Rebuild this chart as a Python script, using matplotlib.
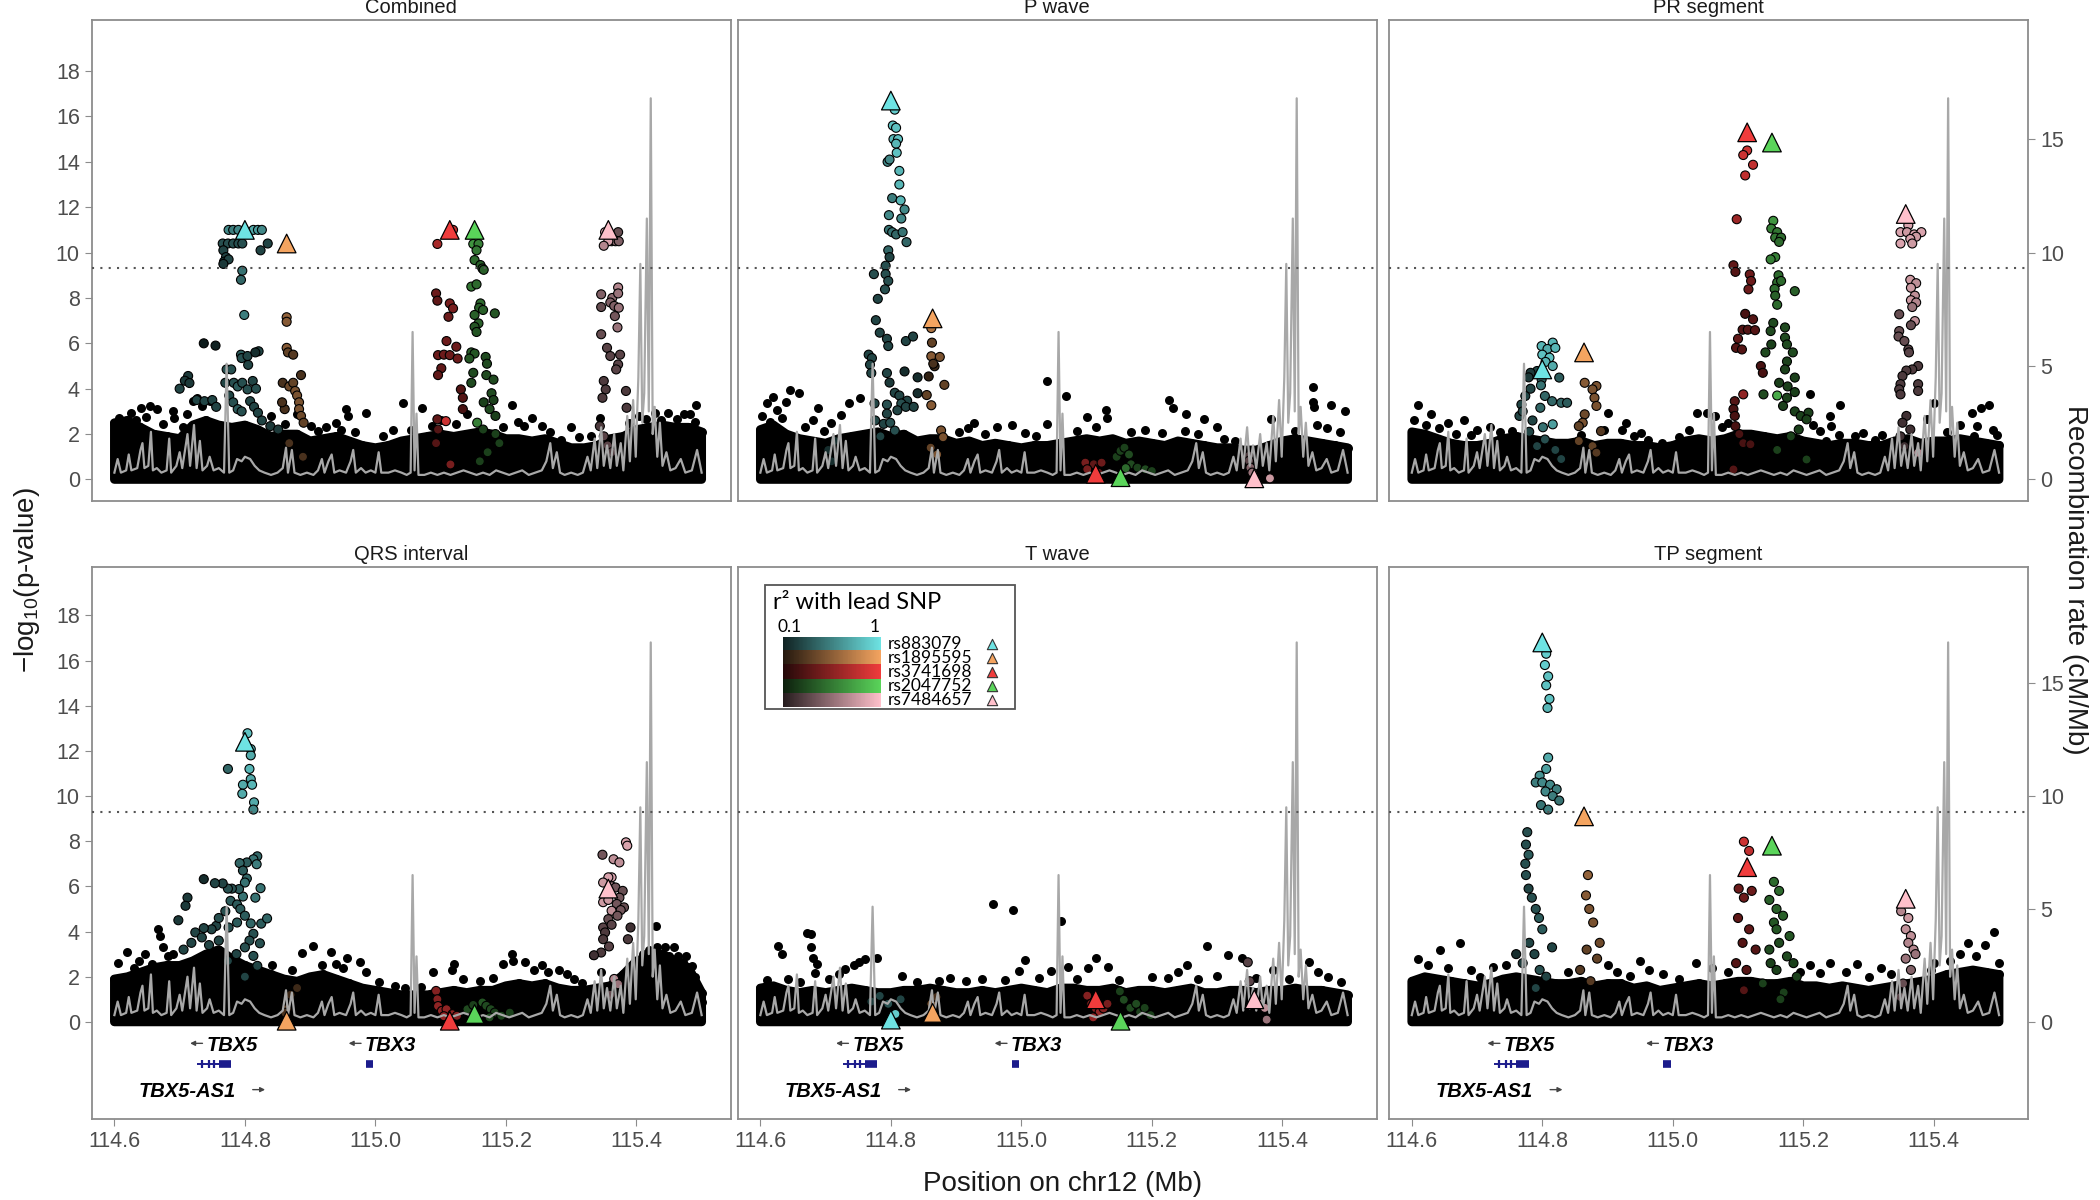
import numpy as np
import matplotlib
matplotlib.use('Agg')
import matplotlib.pyplot as plt
from matplotlib.colors import to_rgb
from matplotlib.patches import Rectangle

plt.rcParams['font.family'] = ['Liberation Sans', 'DejaVu Sans']
plt.rcParams['mathtext.fontset'] = 'custom'
plt.rcParams['mathtext.rm'] = 'Liberation Sans'

# ---------------- data ----------------
panel_titles = ['Combined', 'P wave', 'PR segment', 'QRS interval', 'T wave', 'TP segment']
lead_names = ['rs883079', 'rs1895595', 'rs3741698', 'rs2047752', 'rs7484657']
lead_colors = ['#6ee3e3', '#f4a460', '#f03c3c', '#5ad45a', '#ffc0cb']
lead_pos = [114.800, 114.864, 115.114, 115.152, 115.357]

lead_y_comb = [11.0, 10.4, 11.0, 11.0, 11.0]
lead_y_pw = [16.7, 7.1, 0.25, 0.1, 0.05]
lead_y_pr = [4.85, 5.6, 15.3, 14.85, 11.7]
lead_y_qrs = [12.4, 0.05, 0.05, 0.35, 5.9]
lead_y_tw = [0.1, 0.4, 1.0, 0.05, 1.0]
lead_y_tp = [16.8, 9.1, 6.85, 7.8, 5.45]

threshold = 9.3

# recombination rate (cM/Mb), shared by all panels
recomb_pos = [114.600, 114.605, 114.610, 114.618, 114.622, 114.626, 114.635, 114.640, 114.643, 114.646,
              114.652, 114.656, 114.659, 114.665, 114.672, 114.680, 114.684, 114.687, 114.695, 114.700,
              114.704, 114.712, 114.716, 114.722, 114.726, 114.731, 114.735, 114.742, 114.746, 114.752,
              114.760, 114.768, 114.772, 114.776, 114.782, 114.788, 114.795, 114.800, 114.808, 114.815,
              114.822, 114.830, 114.840, 114.850, 114.858, 114.863, 114.866, 114.872, 114.876, 114.885,
              114.895, 114.905, 114.912, 114.918, 114.922, 114.928, 114.933, 114.937, 114.945, 114.955,
              114.962, 114.966, 114.970, 114.978, 114.985, 114.993, 115.000, 115.005, 115.009, 115.020,
              115.030, 115.040, 115.048, 115.054, 115.057, 115.060, 115.063, 115.066, 115.075, 115.085,
              115.095, 115.105, 115.115, 115.125, 115.135, 115.145, 115.155, 115.165, 115.175, 115.185,
              115.195, 115.205, 115.215, 115.225, 115.235, 115.245, 115.255, 115.262, 115.268, 115.272,
              115.278, 115.283, 115.290, 115.300, 115.310, 115.318, 115.325, 115.330, 115.336, 115.340,
              115.346, 115.350, 115.355, 115.360, 115.366, 115.370, 115.376, 115.380, 115.386, 115.390,
              115.395, 115.399, 115.403, 115.406, 115.409, 115.412, 115.416, 115.419, 115.422, 115.425,
              115.428, 115.432, 115.436, 115.440, 115.446, 115.452, 115.460, 115.468, 115.475, 115.485,
              115.493, 115.500]
recomb_rate = [0.3, 0.9, 0.3, 0.4, 1.1, 0.4, 0.5, 1.3, 1.6, 0.5,
               0.6, 2.1, 0.4, 0.5, 0.3, 0.4, 1.8, 0.3, 0.6, 1.2,
               0.5, 2.0, 0.6, 2.4, 0.5, 1.7, 0.4, 0.6, 1.0, 0.4,
               0.5, 0.3, 5.1, 0.3, 0.4, 0.9, 0.8, 1.0, 0.9, 0.6,
               0.4, 0.3, 0.2, 0.3, 0.5, 1.4, 0.3, 1.3, 0.3, 0.2,
               0.3, 0.2, 0.4, 0.9, 0.3, 0.8, 1.1, 0.3, 0.4, 0.3,
               0.8, 1.3, 0.3, 0.5, 0.3, 0.4, 0.3, 1.2, 0.3, 0.3,
               0.4, 0.3, 0.2, 0.3, 6.5, 0.4, 2.9, 0.2, 0.2, 0.3,
               0.2, 0.3, 0.2, 0.3, 0.4, 0.3, 0.2, 0.3, 0.2, 0.4,
               0.3, 0.2, 0.3, 0.4, 0.2, 0.3, 0.4, 0.8, 1.6, 0.5,
               1.2, 0.3, 0.2, 0.3, 0.2, 0.3, 1.0, 0.4, 1.8, 0.5,
               2.3, 0.6, 1.5, 0.5, 2.0, 0.6, 1.6, 0.4, 2.8, 0.8,
               3.5, 1.0, 4.5, 9.5, 2.5, 3.8, 11.5, 3.0, 16.8, 2.0,
               3.2, 1.0, 2.5, 0.6, 1.2, 0.4, 0.5, 0.9, 0.3, 0.4,
               1.3, 0.3]

# top of the dense band of weak SNPs
band_pos = [114.60, 114.62, 114.64, 114.66, 114.68, 114.70, 114.72, 114.74, 114.76, 114.78,
            114.80, 114.82, 114.84, 114.86, 114.88, 114.90, 114.92, 114.94, 114.96, 114.98,
            115.00, 115.02, 115.04, 115.06, 115.08, 115.10, 115.12, 115.14, 115.16, 115.18,
            115.20, 115.22, 115.24, 115.26, 115.28, 115.30, 115.32, 115.34, 115.36, 115.38,
            115.40, 115.42, 115.44, 115.46, 115.48, 115.50]
band_comb = [2.5, 2.6, 2.3, 2.0, 1.9, 1.8, 2.4, 2.6, 2.4, 2.3, 2.4, 2.2, 1.9, 2.0, 2.0, 1.7, 1.8, 1.9, 1.7, 1.5,
             1.4, 1.5, 1.7, 1.8, 1.9, 2.0, 1.9, 2.0, 2.1, 2.0, 1.8, 1.8, 1.7, 1.8, 1.6, 1.4, 1.4, 1.5, 1.8, 1.9,
             2.2, 2.3, 2.4, 2.3, 2.3, 2.1]
band_pw = [2.2, 2.4, 2.0, 1.8, 1.7, 1.6, 1.8, 1.9, 2.0, 2.1, 1.9, 2.0, 1.7, 1.8, 1.8, 1.6, 1.7, 1.5, 1.6, 1.5,
           1.4, 1.5, 1.5, 1.6, 1.7, 1.8, 1.7, 1.8, 1.6, 1.7, 1.6, 1.5, 1.7, 1.6, 1.5, 1.4, 1.4, 1.3, 1.3, 1.5,
           1.7, 1.8, 1.7, 1.6, 1.5, 1.4]
band_pr = [2.1, 2.0, 1.8, 1.6, 1.5, 1.5, 1.6, 1.8, 1.9, 1.8, 1.7, 1.6, 1.6, 1.7, 1.5, 1.6, 1.6, 1.5, 1.5, 1.4,
           1.5, 1.7, 1.8, 1.7, 1.8, 2.0, 2.0, 1.9, 1.8, 1.9, 1.7, 1.6, 1.5, 1.6, 1.6, 1.5, 1.5, 1.7, 1.8, 1.6,
           1.7, 1.7, 1.8, 1.7, 1.6, 1.5]
band_qrs = [1.9, 2.0, 2.2, 2.4, 2.5, 2.5, 2.7, 3.0, 3.2, 2.8, 2.5, 2.3, 2.1, 1.9, 1.8, 2.0, 2.1, 1.9, 1.7, 1.5,
            1.4, 1.3, 1.2, 1.2, 1.2, 1.3, 1.4, 1.3, 1.4, 1.4, 1.6, 1.7, 1.6, 1.7, 1.5, 1.4, 1.4, 1.5, 1.6, 2.1,
            2.7, 2.9, 3.0, 2.7, 2.4, 1.3]
band_tw = [1.5, 1.6, 1.4, 1.3, 1.4, 1.3, 1.4, 1.5, 1.4, 1.3, 1.3, 1.4, 1.4, 1.5, 1.4, 1.3, 1.3, 1.4, 1.3, 1.4,
           1.5, 1.4, 1.3, 1.5, 1.5, 1.4, 1.4, 1.5, 1.3, 1.4, 1.4, 1.3, 1.4, 1.5, 1.3, 1.3, 1.4, 1.4, 1.3, 1.4,
           1.4, 1.5, 1.4, 1.4, 1.3, 1.2]
band_tp = [1.8, 2.0, 1.9, 1.8, 1.7, 1.6, 1.7, 1.9, 2.0, 1.9, 1.8, 1.7, 1.7, 1.8, 1.6, 1.7, 1.7, 1.5, 1.6, 1.4,
           1.5, 1.6, 1.7, 1.6, 1.7, 1.8, 1.8, 1.7, 1.7, 1.8, 1.6, 1.6, 1.5, 1.6, 1.5, 1.4, 1.5, 1.6, 1.7, 1.8,
           1.9, 2.1, 2.2, 2.3, 2.2, 2.1]

# scattered SNPs above the band with r2 < 0.1 (black): (position, -log10 p)
bg_comb = [(114.625, 2.94), (114.641, 3.16), (114.654, 3.24), (114.666, 3.1), (114.615, 2.43), (114.691, 2.72),
           (114.726, 3.6), (114.72, 3.45), (114.735, 3.24), (114.747, 3.46), (114.69, 3.0), (114.902, 2.35),
           (114.939, 2.5), (114.955, 3.1), (114.958, 2.8), (114.986, 2.94), (115.043, 3.38), (115.071, 3.16),
           (115.027, 2.2), (115.209, 3.3), (115.228, 2.35), (115.256, 2.35), (115.285, 1.76), (115.344, 2.7),
           (115.404, 2.8), (115.429, 2.94), (115.448, 2.94), (115.473, 2.87), (115.482, 2.9), (115.492, 3.3),
           (115.499, 1.98), (115.388, 2.5), (114.88, 2.9), (114.84, 2.8), (115.10, 2.6), (115.14, 2.9),
           (115.30, 2.3), (115.24, 2.7), (114.607, 2.7), (114.633, 2.6), (114.648, 2.75), (114.675, 2.45),
           (114.705, 2.3), (114.712, 2.9), (114.862, 2.45), (114.912, 2.15), (114.925, 2.3), (114.948, 2.2),
           (114.968, 2.1), (115.012, 1.9), (115.055, 2.2), (115.086, 2.35), (115.124, 2.45), (115.196, 2.3),
           (115.218, 2.55), (115.268, 2.1), (115.312, 1.85), (115.33, 1.9), (115.414, 2.65), (115.438, 2.6),
           (115.462, 2.65), (115.49, 2.55)]
bg_pw = [(115.039, 4.36), (115.069, 3.68), (115.130, 3.05), (115.226, 3.5), (115.232, 3.15), (115.253, 2.9),
         (115.280, 2.68), (115.300, 2.3), (115.327, 1.7), (115.383, 2.68), (115.447, 4.06), (115.447, 3.42),
         (115.449, 3.2), (115.475, 3.27), (115.496, 3.0), (115.453, 2.38), (114.646, 3.94), (114.659, 3.8),
         (114.620, 3.64), (114.610, 3.35), (114.626, 3.05), (114.688, 3.17), (114.736, 3.35), (114.753, 3.6),
         (114.724, 2.83), (114.708, 2.5), (114.986, 2.38), (115.040, 2.45), (114.928, 2.5), (115.100, 2.75),
         (115.132, 2.7), (115.251, 2.15), (115.270, 2.0), (114.64, 3.4), (114.68, 2.6), (114.603, 2.8),
         (114.615, 2.55), (114.633, 2.7), (114.668, 2.3), (114.697, 2.15), (114.905, 2.1), (114.918, 2.25),
         (114.945, 2.0), (114.962, 2.3), (115.005, 2.05), (115.022, 1.9), (115.085, 2.15), (115.115, 2.3),
         (115.168, 2.1), (115.19, 2.2), (115.215, 2.05), (115.31, 1.8), (115.42, 2.15), (115.468, 2.25),
         (115.488, 2.1)]
bg_pr = [(114.61, 3.3), (114.63, 2.9), (114.655, 2.5), (114.70, 2.2), (114.753, 2.13), (114.90, 2.94),
         (115.037, 2.94), (115.053, 2.94), (115.065, 2.8), (115.211, 3.75), (115.256, 3.3), (115.241, 2.8),
         (115.242, 2.35), (115.291, 2.06), (115.321, 1.98), (115.400, 3.35), (115.389, 2.65), (115.458, 2.94),
         (115.484, 3.26), (115.473, 3.16), (115.467, 2.35), (115.461, 1.91), (115.497, 1.98), (114.928, 2.5),
         (114.922, 2.2), (114.940, 1.91), (114.962, 1.76), (114.983, 1.62), (115.255, 1.98), (115.235, 1.7),
         (115.271, 1.47), (114.68, 2.6), (114.72, 2.3), (114.603, 2.6), (114.622, 2.4), (114.642, 2.25),
         (114.668, 2.0), (114.69, 1.95), (114.735, 2.1), (114.86, 1.95), (114.895, 2.2), (114.952, 2.05),
         (115.01, 1.85), (115.025, 2.2), (115.075, 2.3), (115.085, 2.5), (115.215, 2.4), (115.225, 2.15),
         (115.28, 1.9), (115.31, 1.75), (115.42, 2.1), (115.44, 2.4), (115.49, 2.2)]
bg_qrs = [(114.619, 3.1), (114.647, 3.0), (114.667, 4.1), (114.670, 3.8), (114.674, 3.3), (114.658, 2.55),
          (114.888, 3.07), (114.904, 3.37), (114.932, 3.1), (114.957, 2.85), (114.976, 2.65), (114.842, 2.5),
          (115.210, 3.0), (115.211, 2.7), (115.229, 2.63), (115.195, 2.55), (115.243, 2.3), (115.256, 2.5),
          (115.281, 2.3), (115.294, 2.1), (115.316, 1.7), (115.334, 2.95), (115.430, 4.25), (115.431, 3.3),
          (115.444, 3.3), (115.457, 3.3), (115.463, 2.93), (115.472, 2.63), (115.485, 2.48), (115.497, 1.37),
          (115.500, 0.9), (115.120, 2.55), (115.117, 2.3), (115.089, 2.2), (115.046, 1.5), (115.40, 2.7),
          (115.41, 3.0), (115.45, 2.9), (114.63, 2.4), (114.69, 3.0), (114.95, 2.4), (114.606, 2.6),
          (114.638, 2.7), (114.682, 2.9), (114.872, 2.3), (114.918, 2.5), (114.94, 2.55), (114.985, 2.2),
          (115.005, 1.75), (115.03, 1.6), (115.07, 1.55), (115.135, 1.9), (115.16, 1.8), (115.18, 1.95),
          (115.265, 2.2), (115.305, 1.9), (115.345, 2.2), (115.42, 3.2), (115.476, 2.9), (115.49, 2.0)]
bg_tw = [(114.956, 5.2), (114.987, 4.95), (115.061, 4.45), (114.672, 3.95), (114.677, 3.9), (114.678, 3.3),
         (114.681, 2.85), (114.684, 2.15), (114.687, 2.55), (114.760, 2.8), (114.779, 2.85), (114.751, 2.65),
         (114.743, 2.5), (114.730, 2.35), (114.643, 1.9), (114.817, 2.05), (114.874, 1.8), (115.284, 3.35),
         (115.317, 2.95), (115.338, 2.85), (115.254, 2.5), (115.441, 2.65), (115.385, 2.3), (115.114, 2.85),
         (115.133, 2.45), (115.102, 2.4), (115.072, 2.45), (115.006, 2.75), (114.996, 2.25), (115.046, 2.25),
         (115.027, 1.95), (114.627, 3.34), (114.633, 3.0), (115.47, 2.0), (114.61, 1.85), (114.66, 1.75),
         (114.705, 1.9), (114.72, 2.1), (114.84, 1.75), (114.89, 1.95), (114.915, 1.8), (114.94, 1.9),
         (114.975, 1.85), (115.085, 1.9), (115.15, 1.85), (115.2, 2.0), (115.225, 1.95), (115.24, 2.2),
         (115.27, 1.9), (115.3, 2.05), (115.36, 1.95), (115.41, 1.9), (115.455, 2.2), (115.49, 1.75)]
bg_tp = [(114.674, 3.5), (114.643, 3.2), (115.493, 4.0), (115.478, 3.4), (115.452, 3.5), (115.40, 2.6),
         (114.705, 2.0), (115.282, 2.56), (115.241, 2.6), (115.035, 2.6), (114.963, 2.3), (115.319, 2.4),
         (114.61, 2.8), (114.95, 2.7), (115.06, 2.4), (115.21, 2.5), (115.44, 3.0), (114.90, 2.5),
         (114.625, 2.5), (114.655, 2.4), (114.69, 2.3), (114.725, 2.45), (114.745, 2.5), (114.84, 2.2),
         (114.915, 2.2), (114.935, 2.05), (114.985, 2.1), (115.01, 1.9), (115.085, 2.2), (115.195, 2.2),
         (115.225, 2.15), (115.265, 2.2), (115.3, 2.0), (115.335, 2.1), (115.395, 2.3), (115.425, 2.7),
         (115.465, 2.9), (115.5, 2.6)]

# SNPs in LD with each lead: (position, -log10 p, r2)
comb_cyan = [(114.775, 11.0, 0.6), (114.782, 11.0, 0.55), (114.790, 11.0, 0.6), (114.813, 11.0, 0.75),
             (114.820, 11.0, 0.7), (114.826, 11.0, 0.6), (114.766, 10.4, 0.35), (114.774, 10.4, 0.35),
             (114.782, 10.4, 0.35), (114.790, 10.4, 0.35), (114.796, 10.4, 0.35), (114.835, 10.4, 0.3),
             (114.824, 10.1, 0.3), (114.767, 10.1, 0.3), (114.771, 9.8, 0.3), (114.768, 9.6, 0.25),
             (114.775, 9.7, 0.3), (114.767, 9.5, 0.25), (114.796, 9.2, 0.5), (114.794, 8.8, 0.45),
             (114.799, 7.25, 0.55), (114.737, 6.0, 0.12), (114.755, 5.9, 0.15), (114.794, 5.5, 0.4),
             (114.795, 5.35, 0.35), (114.805, 5.05, 0.3), (114.821, 5.65, 0.3), (114.772, 4.85, 0.35),
             (114.713, 4.56, 0.25), (114.708, 4.35, 0.25), (114.700, 4.0, 0.3), (114.715, 4.25, 0.25),
             (114.726, 3.5, 0.3), (114.738, 3.45, 0.3), (114.750, 3.5, 0.3), (114.756, 3.2, 0.3),
             (114.779, 4.85, 0.35), (114.770, 4.26, 0.3), (114.783, 4.26, 0.35), (114.789, 4.1, 0.4),
             (114.796, 4.26, 0.35), (114.804, 3.97, 0.35), (114.812, 4.34, 0.3), (114.817, 4.0, 0.35),
             (114.776, 3.7, 0.3), (114.782, 3.4, 0.35), (114.789, 3.1, 0.4), (114.795, 3.0, 0.35),
             (114.808, 3.45, 0.3), (114.814, 3.2, 0.3), (114.820, 2.94, 0.3), (114.826, 2.6, 0.3),
             (114.839, 2.35, 0.25), (114.851, 2.2, 0.25), (114.804, 5.44, 0.3), (114.816, 5.6, 0.2)]
comb_orange = [(114.864, 7.15, 0.6), (114.864, 6.95, 0.55), (114.864, 5.8, 0.55), (114.866, 5.6, 0.4),
               (114.874, 5.5, 0.35), (114.858, 4.26, 0.3), (114.868, 4.1, 0.45), (114.874, 4.26, 0.4),
               (114.877, 3.9, 0.5), (114.886, 4.6, 0.3), (114.880, 3.7, 0.5), (114.883, 3.4, 0.5),
               (114.883, 3.1, 0.5), (114.886, 2.8, 0.45), (114.890, 2.5, 0.4), (114.861, 3.1, 0.3),
               (114.857, 3.4, 0.3), (114.868, 1.6, 0.3), (114.889, 1.0, 0.3)]
comb_red = [(115.095, 10.38, 0.7), (115.119, 11.0, 0.8), (115.093, 8.2, 0.45), (115.095, 7.88, 0.4),
            (115.114, 7.76, 0.5), (115.119, 7.54, 0.5), (115.112, 7.17, 0.45), (115.109, 6.1, 0.45),
            (115.124, 5.85, 0.45), (115.096, 5.48, 0.45), (115.105, 5.5, 0.45), (115.114, 5.48, 0.45),
            (115.126, 5.33, 0.45), (115.101, 4.9, 0.4), (115.096, 4.6, 0.4), (115.131, 3.97, 0.35),
            (115.134, 3.6, 0.35), (115.134, 3.1, 0.3), (115.095, 2.65, 0.4), (115.108, 2.57, 0.85),
            (115.096, 2.2, 0.35), (115.093, 1.6, 0.35), (115.115, 0.66, 0.5)]
comb_green = [(115.150, 10.38, 0.7), (115.158, 10.38, 0.6), (115.155, 10.1, 0.55), (115.152, 9.67, 0.5),
              (115.161, 9.45, 0.45), (115.164, 9.3, 0.45), (115.166, 9.24, 0.45), (115.147, 8.5, 0.55),
              (115.155, 8.6, 0.5), (115.161, 7.76, 0.5), (115.159, 7.57, 0.45), (115.165, 7.47, 0.45),
              (115.152, 7.25, 0.45), (115.183, 7.32, 0.4), (115.158, 6.88, 0.45), (115.152, 6.73, 0.4),
              (115.155, 6.5, 0.4), (115.147, 5.6, 0.45), (115.152, 5.55, 0.4), (115.144, 5.33, 0.4),
              (115.169, 5.4, 0.35), (115.171, 5.1, 0.35), (115.150, 4.7, 0.35), (115.170, 4.6, 0.35),
              (115.181, 4.4, 0.35), (115.147, 4.26, 0.35), (115.178, 3.8, 0.35), (115.181, 3.5, 0.3),
              (115.166, 3.4, 0.3), (115.175, 3.1, 0.35), (115.184, 2.8, 0.3), (115.156, 2.5, 0.6),
              (115.165, 2.2, 0.3), (115.184, 2.0, 0.3), (115.190, 1.6, 0.3), (115.172, 1.2, 0.3),
              (115.160, 0.8, 0.3)]
comb_pink = [(115.352, 10.9, 0.9), (115.362, 10.5, 0.6), (115.368, 10.5, 0.55), (115.373, 10.5, 0.5),
             (115.357, 10.5, 0.85), (115.350, 10.3, 0.7), (115.372, 10.9, 0.4), (115.346, 8.16, 0.5),
             (115.363, 8.0, 0.55), (115.372, 8.46, 0.7), (115.372, 8.2, 0.6), (115.360, 7.8, 0.5),
             (115.366, 7.65, 0.5), (115.373, 7.57, 0.6), (115.367, 7.2, 0.45), (115.371, 6.7, 0.6),
             (115.346, 7.6, 0.4), (115.346, 6.4, 0.4), (115.355, 5.8, 0.35), (115.360, 5.44, 0.35),
             (115.375, 5.5, 0.35), (115.372, 5.07, 0.35), (115.369, 4.85, 0.35), (115.350, 4.34, 0.3),
             (115.353, 3.97, 0.3), (115.348, 3.6, 0.3), (115.384, 3.9, 0.3), (115.385, 3.16, 0.3),
             (115.344, 2.35, 0.3), (115.350, 1.9, 0.35), (115.356, 1.5, 0.35), (115.362, 1.2, 0.3)]

pw_cyan = [(114.806, 16.3, 0.9), (114.803, 15.6, 0.85), (114.808, 15.5, 0.85), (114.804, 15.0, 0.8),
           (114.811, 15.0, 0.85), (114.808, 14.8, 0.8), (114.809, 14.4, 0.85), (114.795, 14.0, 0.6),
           (114.798, 14.1, 0.6), (114.813, 13.6, 0.8), (114.813, 13.0, 0.8), (114.802, 12.4, 0.55),
           (114.815, 12.3, 0.8), (114.821, 11.9, 0.6), (114.797, 11.65, 0.6), (114.816, 11.5, 0.6),
           (114.797, 11.0, 0.5), (114.802, 10.9, 0.5), (114.808, 10.8, 0.45), (114.818, 10.9, 0.5),
           (114.824, 10.46, 0.45), (114.796, 10.1, 0.45), (114.798, 9.8, 0.3), (114.792, 9.42, 0.35),
           (114.774, 9.05, 0.35), (114.792, 9.05, 0.35), (114.796, 8.75, 0.35), (114.791, 8.38, 0.35),
           (114.780, 7.96, 0.3), (114.777, 7.02, 0.3), (114.783, 6.47, 0.3), (114.794, 6.2, 0.3),
           (114.796, 5.88, 0.3), (114.823, 6.1, 0.3), (114.834, 6.3, 0.3), (114.766, 5.5, 0.3),
           (114.771, 5.35, 0.3), (114.768, 5.06, 0.3), (114.770, 4.69, 0.3), (114.794, 4.69, 0.3),
           (114.821, 4.76, 0.2), (114.798, 4.27, 0.25), (114.841, 4.5, 0.2), (114.806, 3.82, 0.3),
           (114.813, 3.7, 0.3), (114.841, 3.8, 0.2), (114.825, 3.47, 0.3), (114.816, 3.35, 0.35),
           (114.775, 3.35, 0.3), (114.794, 3.3, 0.35), (114.794, 2.9, 0.3), (114.810, 3.05, 0.3),
           (114.823, 3.2, 0.3), (114.835, 3.2, 0.3), (114.776, 2.6, 0.3), (114.789, 2.45, 0.3),
           (114.799, 2.5, 0.35), (114.806, 2.15, 0.35), (114.784, 1.9, 0.3), (114.714, 1.7, 0.2),
           (114.704, 1.3, 0.2), (114.709, 0.8, 0.2)]
pw_orange = [(114.862, 6.85, 0.75), (114.862, 6.67, 0.7), (114.863, 6.03, 0.4), (114.862, 5.43, 0.55),
             (114.875, 5.4, 0.5), (114.867, 4.99, 0.25), (114.865, 5.1, 0.3), (114.858, 4.54, 0.2),
             (114.882, 4.17, 0.4), (114.855, 3.72, 0.4), (114.862, 3.27, 0.55), (114.877, 2.16, 0.5),
             (114.880, 1.86, 0.5), (114.861, 1.4, 0.4), (114.871, 1.1, 0.5)]
pw_red = [(115.098, 0.74, 0.5), (115.111, 0.67, 0.4), (115.123, 0.74, 0.45), (115.101, 0.45, 0.5),
          (115.118, 0.3, 0.4)]
pw_green = [(115.146, 1.0, 0.3), (115.152, 1.26, 0.3), (115.158, 1.4, 0.3), (115.165, 1.1, 0.35),
            (115.168, 0.67, 0.35), (115.178, 0.52, 0.3), (115.190, 0.45, 0.35), (115.200, 0.37, 0.3),
            (115.160, 0.5, 0.5)]
pw_pink = [(115.349, 1.04, 0.3), (115.349, 0.82, 0.35), (115.351, 0.52, 0.5), (115.354, 0.3, 0.6),
           (115.381, 0.05, 0.8)]

pr_cyan = [(114.799, 5.88, 0.8), (114.816, 6.03, 0.8), (114.808, 5.75, 0.75), (114.800, 5.5, 0.85),
           (114.820, 5.8, 0.8), (114.811, 5.37, 0.85), (114.805, 5.18, 0.8), (114.816, 5.0, 0.75),
           (114.792, 4.78, 0.3), (114.799, 4.41, 0.45), (114.826, 4.49, 0.4), (114.782, 4.7, 0.25),
           (114.779, 4.5, 0.25), (114.798, 4.15, 0.5), (114.804, 3.68, 0.45), (114.815, 3.45, 0.45),
           (114.829, 3.38, 0.45), (114.838, 3.38, 0.4), (114.797, 3.16, 0.45), (114.774, 3.68, 0.3),
           (114.768, 3.3, 0.3), (114.765, 2.8, 0.3), (114.816, 2.43, 0.7), (114.801, 2.3, 0.5),
           (114.780, 2.1, 0.3), (114.804, 1.76, 0.35), (114.792, 1.47, 0.3), (114.820, 1.3, 0.3),
           (114.829, 0.9, 0.3), (114.782, 4.0, 0.3), (114.770, 3.0, 0.3), (114.785, 2.6, 0.3)]
pr_orange = [(114.865, 4.26, 0.55), (114.883, 4.12, 0.5), (114.877, 3.97, 0.5), (114.880, 3.6, 0.5),
             (114.883, 3.24, 0.5), (114.865, 2.87, 0.45), (114.862, 2.5, 0.5), (114.856, 2.35, 0.4),
             (114.890, 2.13, 0.35), (114.856, 1.69, 0.4), (114.877, 1.47, 0.4), (114.883, 1.18, 0.35)]
pr_red = [(115.114, 14.5, 0.85), (115.108, 14.3, 0.85), (115.123, 13.87, 0.8), (115.111, 13.4, 0.8),
          (115.098, 11.47, 0.65), (115.093, 9.44, 0.4), (115.096, 9.15, 0.35), (115.118, 9.04, 0.45),
          (115.120, 8.75, 0.45), (115.116, 8.38, 0.45), (115.111, 7.3, 0.3), (115.123, 7.06, 0.35),
          (115.107, 6.6, 0.35), (115.115, 6.6, 0.35), (115.126, 6.58, 0.35), (115.100, 6.2, 0.4),
          (115.097, 5.8, 0.35), (115.106, 5.73, 0.35), (115.135, 5.0, 0.3), (115.138, 4.7, 0.3),
          (115.108, 3.75, 0.6), (115.095, 3.45, 0.35), (115.093, 3.1, 0.3), (115.095, 2.8, 0.3),
          (115.096, 2.35, 0.3), (115.102, 2.0, 0.3), (115.108, 1.6, 0.3), (115.119, 1.55, 0.3),
          (115.093, 0.44, 0.35)]
pr_green = [(115.154, 11.4, 0.7), (115.151, 11.06, 0.6), (115.160, 10.9, 0.55), (115.157, 10.66, 0.55),
            (115.166, 10.66, 0.5), (115.163, 10.47, 0.5), (115.157, 9.8, 0.6), (115.150, 9.7, 0.6),
            (115.162, 9.0, 0.5), (115.160, 8.68, 0.5), (115.156, 8.4, 0.5), (115.166, 8.75, 0.5),
            (115.187, 8.3, 0.45), (115.157, 8.1, 0.45), (115.160, 7.7, 0.5), (115.154, 6.9, 0.35),
            (115.150, 6.54, 0.35), (115.172, 6.7, 0.35), (115.172, 6.25, 0.35), (115.175, 5.95, 0.35),
            (115.184, 5.6, 0.35), (115.142, 5.6, 0.35), (115.151, 5.95, 0.3), (115.175, 5.2, 0.3),
            (115.172, 4.85, 0.3), (115.187, 4.49, 0.3), (115.163, 4.26, 0.3), (115.176, 4.1, 0.3),
            (115.187, 3.85, 0.3), (115.175, 3.6, 0.3), (115.160, 3.7, 0.8), (115.139, 3.75, 0.35),
            (115.169, 3.24, 0.3), (115.187, 3.0, 0.3), (115.196, 2.8, 0.3), (115.208, 2.94, 0.3),
            (115.205, 2.65, 0.3), (115.193, 2.2, 0.3), (115.181, 1.9, 0.3), (115.160, 1.3, 0.3),
            (115.205, 0.88, 0.3)]
pr_pink = [(115.361, 11.2, 0.85), (115.349, 10.9, 0.85), (115.359, 10.9, 0.8), (115.370, 10.8, 0.85),
           (115.381, 10.9, 0.85), (115.373, 10.7, 0.8), (115.364, 10.6, 0.85), (115.349, 10.4, 0.85),
           (115.367, 10.4, 0.8), (115.364, 8.8, 0.8), (115.373, 8.65, 0.75), (115.365, 8.45, 0.8),
           (115.371, 8.1, 0.75), (115.365, 7.9, 0.8), (115.373, 7.8, 0.7), (115.367, 7.6, 0.6),
           (115.347, 7.28, 0.4), (115.371, 6.98, 0.75), (115.365, 6.8, 0.4), (115.347, 6.54, 0.4),
           (115.346, 6.3, 0.4), (115.355, 6.1, 0.4), (115.361, 5.73, 0.35), (115.362, 5.6, 0.35),
           (115.376, 5.0, 0.3), (115.367, 4.85, 0.3), (115.358, 4.8, 0.3), (115.352, 4.56, 0.3),
           (115.349, 4.2, 0.3), (115.376, 4.2, 0.3), (115.347, 3.97, 0.3), (115.376, 3.9, 0.3),
           (115.349, 3.75, 0.3), (115.358, 2.8, 0.25), (115.352, 2.5, 0.25), (115.364, 2.2, 0.25),
           (115.349, 1.9, 0.25), (115.355, 1.47, 0.25), (115.376, 1.18, 0.7)]

qrs_cyan = [(114.804, 12.78, 0.85), (114.809, 12.08, 0.8), (114.809, 11.8, 0.75), (114.774, 11.2, 0.45),
            (114.807, 11.2, 0.8), (114.809, 10.75, 0.75), (114.797, 10.5, 0.75), (114.811, 10.5, 0.8),
            (114.796, 10.1, 0.75), (114.814, 9.72, 0.75), (114.813, 9.4, 0.6), (114.819, 7.33, 0.45),
            (114.813, 7.2, 0.5), (114.803, 7.06, 0.4), (114.792, 7.03, 0.45), (114.818, 6.98, 0.55),
            (114.797, 6.7, 0.4), (114.803, 6.35, 0.45), (114.800, 6.17, 0.5), (114.824, 5.92, 0.5),
            (114.816, 5.5, 0.5), (114.797, 5.55, 0.5), (114.791, 5.88, 0.4), (114.780, 5.9, 0.35),
            (114.774, 5.9, 0.35), (114.766, 6.13, 0.3), (114.754, 6.14, 0.3), (114.737, 6.32, 0.2),
            (114.712, 5.5, 0.25), (114.709, 5.14, 0.25), (114.698, 4.5, 0.25), (114.778, 5.36, 0.4),
            (114.788, 5.2, 0.4), (114.793, 5.0, 0.4), (114.800, 4.7, 0.4), (114.788, 4.4, 0.4),
            (114.775, 4.18, 0.35), (114.756, 4.25, 0.3), (114.749, 4.1, 0.3), (114.737, 4.15, 0.3),
            (114.724, 3.96, 0.3), (114.734, 3.74, 0.3), (114.718, 3.5, 0.3), (114.706, 3.2, 0.3),
            (114.809, 4.36, 0.45), (114.825, 4.35, 0.4), (114.834, 4.58, 0.45), (114.823, 3.48, 0.35),
            (114.813, 3.9, 0.35), (114.807, 3.6, 0.35), (114.800, 3.3, 0.35), (114.787, 3.0, 0.3),
            (114.774, 2.7, 0.3), (114.813, 2.92, 0.35), (114.819, 2.48, 0.3), (114.800, 2.0, 0.3),
            (114.760, 3.6, 0.3), (114.745, 3.4, 0.3), (114.760, 4.6, 0.35), (114.770, 4.9, 0.35)]
qrs_orange = [(114.864, 0.56, 0.35), (114.862, 0.4, 0.3), (114.870, 1.2, 0.25), (114.880, 1.5, 0.25)]
qrs_red = [(115.093, 1.37, 0.55), (115.095, 1.0, 0.55), (115.096, 0.7, 0.6), (115.102, 0.49, 0.6),
           (115.109, 0.56, 0.6), (115.118, 0.34, 0.6), (115.125, 0.27, 0.55), (115.105, 0.25, 0.6)]
qrs_green = [(115.164, 0.86, 0.4), (115.170, 0.71, 0.35), (115.177, 0.56, 0.35), (115.183, 0.41, 0.3),
             (115.141, 0.56, 0.35), (115.157, 0.12, 0.4), (115.193, 0.27, 0.3), (115.206, 0.41, 0.3),
             (115.150, 0.75, 0.3), (115.175, 0.2, 0.35)]
qrs_pink = [(115.384, 7.95, 0.85), (115.386, 7.8, 0.85), (115.348, 7.4, 0.45), (115.365, 7.2, 0.75),
            (115.374, 7.06, 0.75), (115.362, 6.4, 0.85), (115.357, 6.4, 0.85), (115.349, 6.17, 0.8),
            (115.362, 6.0, 0.75), (115.368, 5.95, 0.45), (115.379, 5.8, 0.4), (115.374, 5.5, 0.45),
            (115.349, 5.3, 0.8), (115.357, 5.4, 0.8), (115.370, 5.22, 0.45), (115.381, 5.07, 0.4),
            (115.362, 4.92, 0.75), (115.376, 4.95, 0.45), (115.371, 4.7, 0.45), (115.357, 4.55, 0.4),
            (115.349, 4.18, 0.35), (115.362, 4.3, 0.35), (115.352, 3.96, 0.3), (115.391, 4.18, 0.25),
            (115.349, 3.66, 0.3), (115.387, 3.66, 0.3), (115.358, 3.34, 0.35), (115.346, 3.07, 0.3),
            (115.335, 2.95, 0.25), (115.366, 1.9, 0.7), (115.372, 1.67, 0.6), (115.36, 1.2, 0.4)]

tw_cyan = [(114.807, 0.35, 0.9), (114.796, 0.8, 0.35), (114.783, 1.15, 0.3), (114.770, 0.9, 0.25),
           (114.815, 1.0, 0.3)]
tw_orange = [(114.862, 0.8, 0.45), (114.870, 1.1, 0.3)]
tw_red = [(115.101, 1.16, 0.55), (115.107, 0.8, 0.55), (115.114, 0.6, 0.55), (115.120, 0.44, 0.6),
          (115.126, 0.6, 0.55), (115.132, 0.8, 0.5), (115.110, 0.2, 0.6)]
tw_green = [(115.151, 1.35, 0.3), (115.157, 0.98, 0.35), (115.167, 0.62, 0.35), (115.176, 0.8, 0.35),
            (115.182, 0.44, 0.3), (115.189, 0.62, 0.3), (115.198, 0.3, 0.3)]
tw_pink = [(115.347, 2.64, 0.35), (115.350, 1.8, 0.35), (115.367, 0.8, 0.7), (115.373, 0.62, 0.75),
           (115.376, 0.1, 0.6)]

tp_cyan = [(114.806, 16.3, 0.9), (114.804, 15.8, 0.9), (114.809, 15.3, 0.85), (114.806, 14.9, 0.85),
           (114.811, 14.3, 0.85), (114.808, 13.9, 0.8), (114.809, 11.7, 0.75), (114.806, 11.2, 0.7),
           (114.796, 10.9, 0.65), (114.790, 10.6, 0.55), (114.800, 10.6, 0.6), (114.812, 10.5, 0.6),
           (114.822, 10.3, 0.55), (114.805, 10.2, 0.6), (114.816, 10.0, 0.55), (114.826, 9.8, 0.5),
           (114.798, 9.6, 0.5), (114.809, 9.4, 0.55), (114.777, 8.4, 0.35), (114.775, 7.85, 0.35),
           (114.779, 7.4, 0.4), (114.774, 7.0, 0.35), (114.775, 6.5, 0.35), (114.779, 5.9, 0.3),
           (114.784, 5.5, 0.35), (114.790, 5.0, 0.35), (114.795, 4.6, 0.4), (114.800, 4.1, 0.4),
           (114.780, 3.5, 0.3), (114.788, 3.0, 0.3), (114.796, 2.3, 0.35), (114.806, 2.0, 0.3),
           (114.770, 2.6, 0.25), (114.760, 3.0, 0.2), (114.815, 3.3, 0.3), (114.790, 1.5, 0.3)]
tp_orange = [(114.870, 6.5, 0.6), (114.867, 5.6, 0.55), (114.872, 5.0, 0.5), (114.878, 4.4, 0.5),
             (114.888, 3.5, 0.45), (114.868, 3.2, 0.4), (114.884, 2.8, 0.4), (114.858, 2.3, 0.35),
             (114.874, 1.8, 0.35)]
tp_red = [(115.109, 7.98, 0.85), (115.117, 7.57, 0.8), (115.101, 5.9, 0.45), (115.109, 5.5, 0.45),
          (115.121, 5.8, 0.45), (115.117, 4.1, 0.4), (115.107, 3.5, 0.35), (115.127, 3.2, 0.35),
          (115.097, 2.6, 0.35), (115.113, 2.3, 0.35), (115.109, 1.4, 0.35), (115.100, 4.6, 0.4)]
tp_green = [(115.155, 6.2, 0.5), (115.163, 5.8, 0.5), (115.148, 5.4, 0.45), (115.159, 5.0, 0.45),
            (115.169, 4.7, 0.45), (115.155, 4.4, 0.4), (115.159, 4.1, 0.4), (115.179, 3.8, 0.4),
            (115.163, 3.5, 0.35), (115.148, 3.2, 0.35), (115.175, 2.9, 0.35), (115.159, 2.3, 0.3),
            (115.190, 2.0, 0.3), (115.138, 1.7, 0.3), (115.170, 1.3, 0.3), (115.185, 2.6, 0.3),
            (115.150, 2.6, 0.3), (115.165, 1.0, 0.3)]
tp_pink = [(115.361, 4.6, 0.8), (115.357, 4.1, 0.75), (115.365, 3.8, 0.75), (115.361, 3.5, 0.7),
           (115.369, 3.2, 0.7), (115.357, 2.8, 0.6), (115.365, 2.3, 0.5), (115.353, 1.7, 0.4),
           (115.349, 1.1, 0.35), (115.350, 4.9, 0.7), (115.372, 3.0, 0.6)]

# gene track
gene_names = ['TBX5', 'TBX3', 'TBX5-AS1']
gene_label_x = [114.741, 114.984, 114.637]
gene_label_y = [-1.05, -1.05, -3.1]
gene_arrow_from = [114.735, 114.978, 114.812]
gene_arrow_to = [114.716, 114.959, 114.831]
gene_body = [(114.726, 114.779), (114.985, 114.997)]
gene_exons = [(114.760, 114.779), (114.985, 114.997)]
gene_body_y = -1.85

# ---------------- drawing ----------------
panels = [
    (band_comb, bg_comb, [comb_cyan, comb_orange, comb_red, comb_green, comb_pink], lead_y_comb),
    (band_pw, bg_pw, [pw_cyan, pw_orange, pw_red, pw_green, pw_pink], lead_y_pw),
    (band_pr, bg_pr, [pr_cyan, pr_orange, pr_red, pr_green, pr_pink], lead_y_pr),
    (band_qrs, bg_qrs, [qrs_cyan, qrs_orange, qrs_red, qrs_green, qrs_pink], lead_y_qrs),
    (band_tw, bg_tw, [tw_cyan, tw_orange, tw_red, tw_green, tw_pink], lead_y_tw),
    (band_tp, bg_tp, [tp_cyan, tp_orange, tp_red, tp_green, tp_pink], lead_y_tp),
]


def shade(color, r2):
    # r2 scales the lead colour down towards black
    return tuple(np.array(to_rgb(color)) * r2)


fig = plt.figure(figsize=(21, 12), dpi=100)
lefts = [0.0436, 0.3512, 0.6614]
width = 0.3045
rows = [(0.5825, 0.401), (0.0675, 0.46)]
frame_col = '#8c8c8c'
tick_col = '#4d4d4d'
MS = 42

for i, (band, bg, clusters, lead_y) in enumerate(panels):
    r, c = divmod(i, 3)
    ax = fig.add_axes([lefts[c], rows[r][0], width, rows[r][1]])
    ax.set_xlim(114.565, 115.545)
    if r == 0:
        ax.set_ylim(-0.95, 20.26)
    else:
        ax.set_ylim(-4.3, 20.14)

    # dense band of weak signals
    poly_x = band_pos + band_pos[::-1]
    poly_y = band + [0.0] * len(band_pos)
    ax.fill(poly_x, poly_y, facecolor='black', edgecolor='black', lw=6.3,
            joinstyle='round', zorder=1)
    ax.scatter(band_pos, band, s=MS, c='black', lw=0, zorder=1)
    ax.scatter([p[0] for p in bg], [p[1] for p in bg], s=MS, c='black', lw=0, zorder=2)

    for k, pts in enumerate(clusters):
        cols = [shade(lead_colors[k], p[2]) for p in pts]
        ax.scatter([p[0] for p in pts], [p[1] for p in pts], s=MS, c=cols,
                   edgecolors='black', linewidths=0.8, zorder=3)

    ax.plot(recomb_pos, recomb_rate, color='#a8a8a8', lw=1.6, zorder=4)
    ax.axhline(threshold, color='#555555', ls=(0, (1, 3)), lw=1.5, zorder=5)
    ax.scatter(lead_pos, lead_y, marker='^', s=180, c=lead_colors,
               edgecolors='black', linewidths=0.9, zorder=6)

    for sp in ax.spines.values():
        sp.set_color(frame_col)
        sp.set_linewidth(1.3)
    ax.set_title(panel_titles[i], fontsize=14.5, pad=5, color='#1a1a1a')

    if c == 0:
        ax.set_yticks(range(0, 19, 2))
        ax.tick_params(axis='y', labelsize=15.5, colors=tick_col, length=5, color=frame_col)
    else:
        ax.set_yticks([])
    if r == 1:
        ax.set_xticks([114.6, 114.8, 115.0, 115.2, 115.4])
        ax.set_xticklabels(['114.6', '114.8', '115.0', '115.2', '115.4'])
        ax.tick_params(axis='x', labelsize=15.5, colors=tick_col, length=5, color=frame_col)
        # gene track
        for g in range(3):
            ax.text(gene_label_x[g], gene_label_y[g], gene_names[g], fontsize=14.5,
                    fontstyle='italic', fontweight='bold', ha='left', va='center', zorder=7)
            ax.annotate('', xy=(gene_arrow_to[g], gene_label_y[g] + 0.1),
                        xytext=(gene_arrow_from[g], gene_label_y[g] + 0.1),
                        arrowprops=dict(arrowstyle='-|>', color='#444444', lw=1.0,
                                        mutation_scale=7, shrinkA=0, shrinkB=0))
        for (g0, g1) in gene_body:
            ax.plot([g0, g1], [gene_body_y, gene_body_y], color='#1c1c8c', lw=1.4,
                    solid_capstyle='butt')
        for (e0, e1) in gene_exons:
            ax.plot([e0, e1], [gene_body_y, gene_body_y], color='#1c1c8c', lw=5.5,
                    solid_capstyle='butt')
        ax.plot([114.734, 114.745, 114.752], [gene_body_y] * 3, ls='none', marker='|',
                ms=6, mew=1.6, color='#1c1c8c')
    else:
        ax.set_xticks([])

    if c == 2:
        ax2 = ax.twinx()
        ax2.set_ylim(ax.get_ylim())
        ax2.set_yticks([0, 5, 10, 15])
        ax2.tick_params(axis='y', labelsize=15.5, colors=tick_col, length=5, color=frame_col)
        for sp in ax2.spines.values():
            sp.set_visible(False)

    # r2 legend inside the T wave panel
    if i == 4:
        ax.add_patch(Rectangle((0.043, 0.743), 0.391, 0.224, transform=ax.transAxes,
                               facecolor='white', edgecolor='#555555', lw=1.3, zorder=10))
        ax.text(0.055, 0.935, 'r² with lead SNP', transform=ax.transAxes, fontsize=17,
                family=['Lato', 'DejaVu Sans'], ha='left', va='center', zorder=11)
        ax.text(0.063, 0.892, '0.1', transform=ax.transAxes, fontsize=12.5,
                family=['Lato', 'DejaVu Sans'], ha='left', va='center', zorder=11)
        ax.text(0.223, 0.892, '1', transform=ax.transAxes, fontsize=12.5,
                family=['Lato', 'DejaVu Sans'], ha='right', va='center', zorder=11)
        grad = np.linspace(0.15, 1.0, 120)
        img = np.array([[shade(col, t) for t in grad] for col in lead_colors])
        cax = ax.inset_axes([0.0713, 0.747, 0.153, 0.127])
        cax.imshow(img, aspect='auto', interpolation='nearest')
        cax.set_axis_off()
        cax.set_zorder(11)
        row_h = 0.127 / 5
        for k in range(5):
            yk = 0.874 - row_h * (k + 0.5)
            ax.text(0.235, yk, lead_names[k], transform=ax.transAxes, fontsize=12.5,
                    family=['Lato', 'DejaVu Sans'], ha='left', va='center', zorder=11)
            ax.scatter([0.398], [yk], transform=ax.transAxes, marker='^', s=55,
                       c=[lead_colors[k]], edgecolors='#333333', linewidths=0.8, zorder=12,
                       clip_on=False)

fig.text(0.013, 0.517, r'$-$log$_{10}$(p-value)', rotation=90, fontsize=20,
         ha='center', va='center', color='#1a1a1a')
fig.text(0.988, 0.517, 'Recombination rate (cM/Mb)', rotation=270, fontsize=20,
         ha='center', va='center', color='#1a1a1a')
fig.text(0.506, 0.013, 'Position on chr12 (Mb)', fontsize=20, ha='center', va='center',
         color='#1a1a1a')

fig.savefig('out.png', dpi=100)
